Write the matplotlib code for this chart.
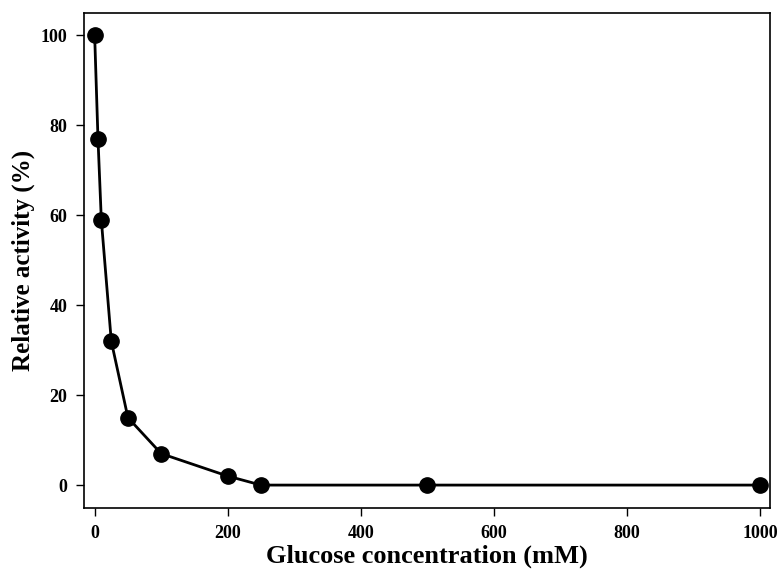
import matplotlib.pyplot as plt

# Glucose inhibition data
glucose_mM = [0, 5, 10, 25, 50, 100, 200, 250, 500, 1000]
relative_activity = [100, 77, 59, 32, 15, 7, 2, 0, 0, 0]

x_ticks = [0, 200, 400, 600, 800, 1000]
y_ticks = [0, 20, 40, 60, 80, 100]

plt.rcParams['font.family'] = ['Liberation Serif', 'DejaVu Serif']
plt.rcParams['font.weight'] = 'bold'

fig = plt.figure(figsize=(7.83, 5.75), dpi=100)
ax = fig.add_axes([0.1073, 0.1165, 0.8761, 0.8609])

ax.plot(glucose_mM, relative_activity, color='black', linewidth=2.0,
        marker='o', markersize=11, markerfacecolor='black', markeredgecolor='black')

ax.set_xlim(-16, 1015)
ax.set_ylim(-5.1, 105)
ax.set_xticks(x_ticks)
ax.set_yticks(y_ticks)
ax.tick_params(direction='out', length=6, width=1, labelsize=13, pad=6)
for lbl in ax.get_xticklabels() + ax.get_yticklabels():
    lbl.set_fontweight('bold')
for spine in ax.spines.values():
    spine.set_linewidth(1.2)

ax.set_xlabel('Glucose concentration (mM)', fontsize=19, fontweight='bold', labelpad=2)
ax.set_ylabel('Relative activity (%)', fontsize=18, fontweight='bold', labelpad=4)

fig.savefig('out.png', dpi=100)
